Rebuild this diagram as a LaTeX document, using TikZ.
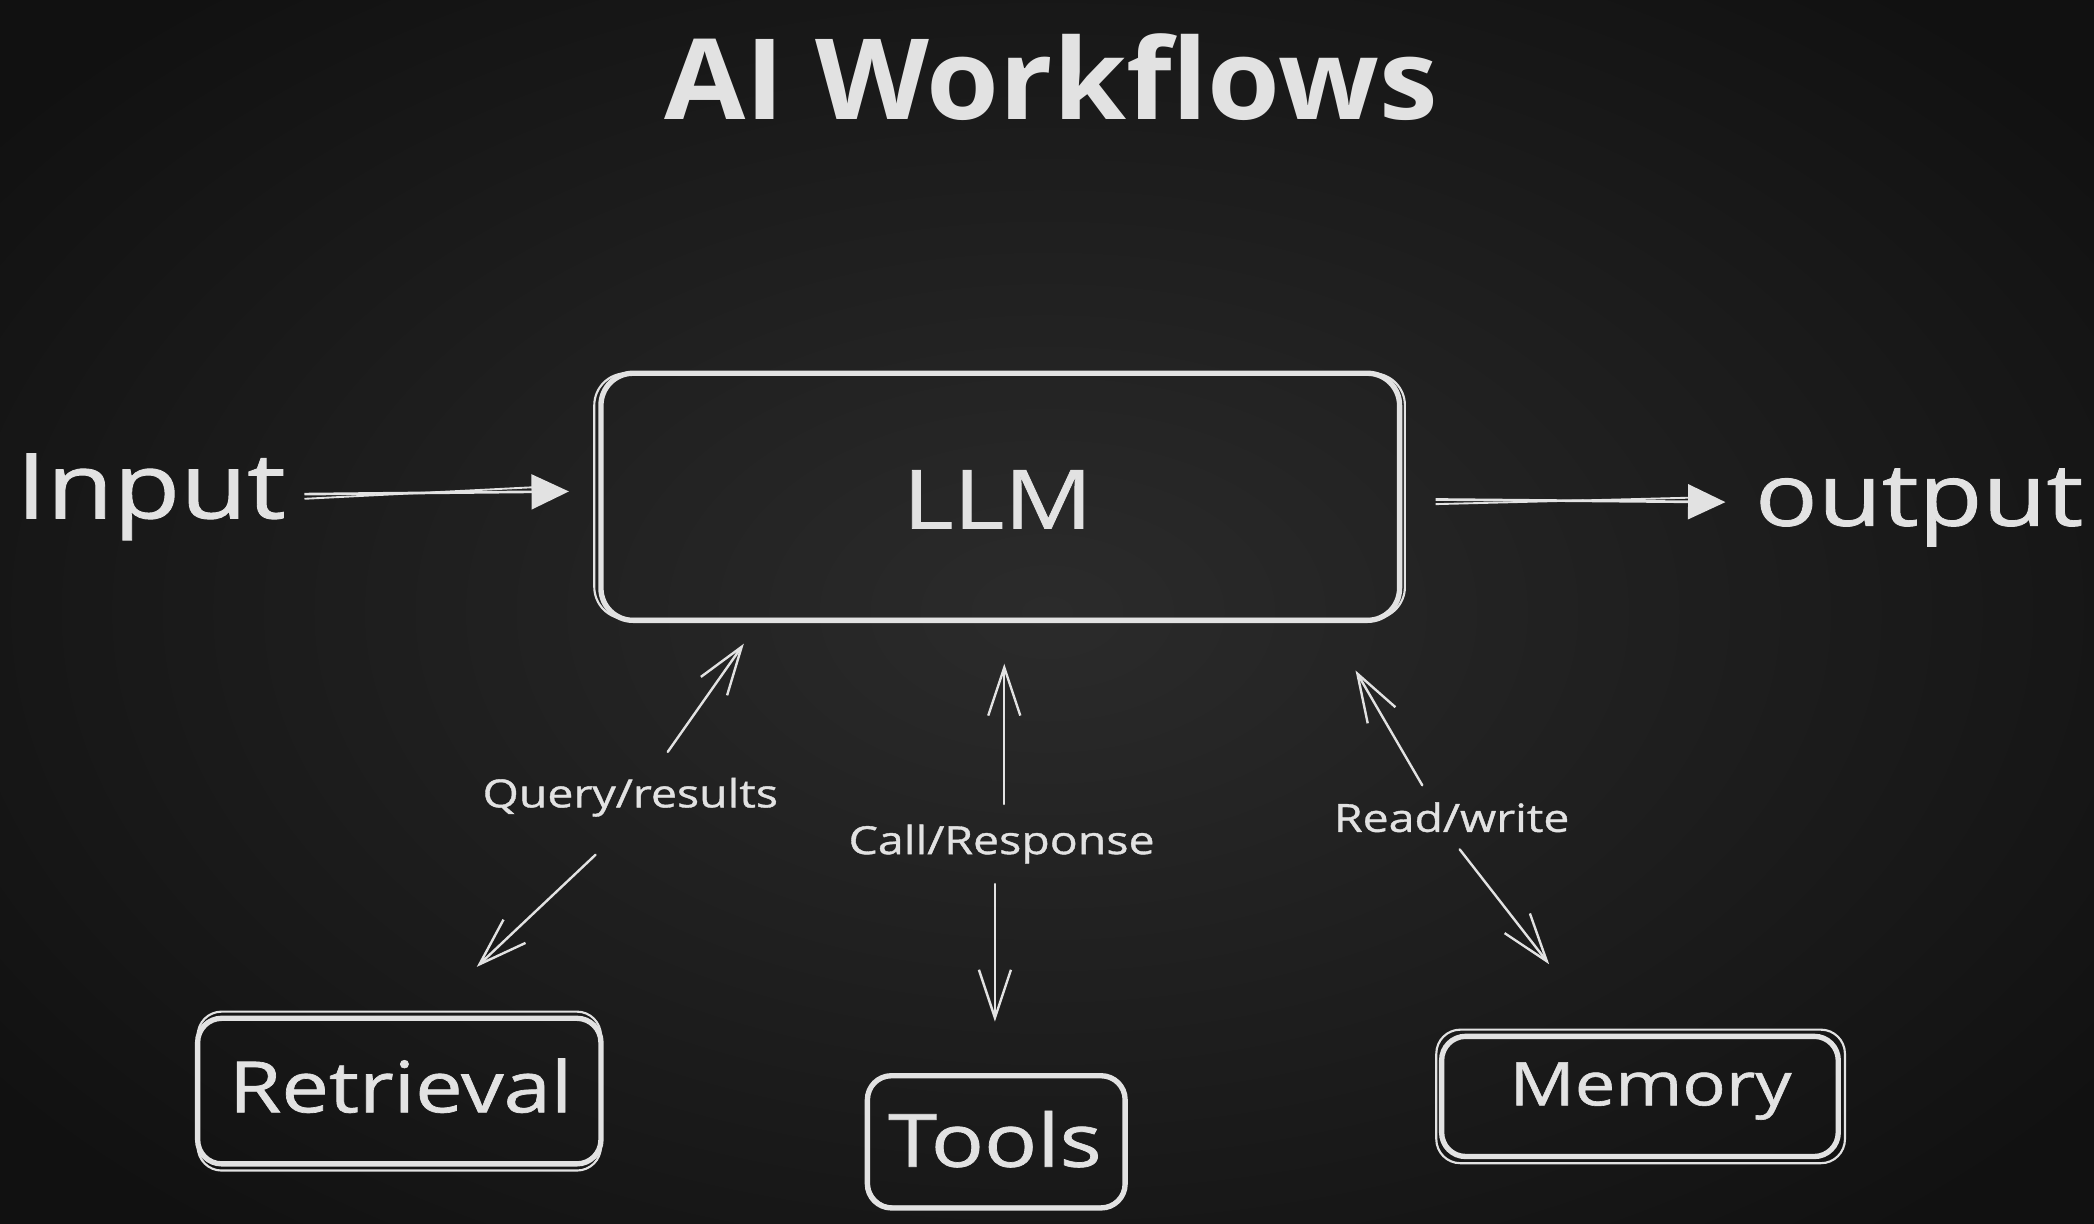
\documentclass[tikz,border=0pt]{standalone}
\usepackage{fontspec}
\setmainfont{Open Sans}[FakeStretch=1.2, FakeBold=1]
\newfontfamily\titlefont{Open Sans}[FakeStretch=1.05]
\usetikzlibrary{arrows.meta}
\definecolor{chalk}{HTML}{E2E2E2}
\definecolor{bgin}{HTML}{2B2B2B}
\definecolor{bgout}{HTML}{111111}
\newcommand\fsz[1]{\fontsize{#1}{#1}\selectfont}
\begin{document}
\begin{tikzpicture}[x=1pt,y=-1pt,
  box/.style={draw=chalk, line width=4pt, rounded corners=24pt, inner sep=0pt},
  sk/.style={draw=chalk, line width=1.6pt, rounded corners=24pt},
  txt/.style={text=chalk, inner sep=0pt},
  thinarr/.style={draw=chalk, line width=1.8pt, line cap=round,
     -{Straight Barb[length=36pt,width=24pt,line width=1.8pt]}},
  thickarr/.style={draw=chalk, line width=2pt,
     -{Triangle[length=28pt,width=26pt]}}]
\useasboundingbox (0,0) rectangle (1568,916);
\shade[inner color=bgin, outer color=bgout] (-200,-150) rectangle (1768,1066);

% title
\node[txt, font=\titlefont\bfseries\fsz{84}] (title) at (787,58) {AI Workflows};

% LLM box
\node[box, minimum width=598pt, minimum height=185pt] (llm) at (749,372) {};
\draw[sk] ([shift={(-3,2)}]llm.north west) rectangle ([shift={(2,-3)}]llm.south east);
\node[txt, font=\fsz{61}] (llmt) at (747,374) {LLM};

% input / output
\node[txt, font=\fsz{68}] (in) at (113,372) {Input};
\node[txt, font=\fsz{65}] (out) at (1437,380) {output};
\coordinate (inA) at (228,370);
\coordinate (inB) at (426,368);
\draw[thickarr] (inA) -- (inB);
\draw[chalk, line width=1.4pt] ([yshift=-3.5]inA) -- ([shift={(-20,-3.5)}]inB);
\coordinate (outA) at (1075,374);
\coordinate (outB) at (1292,376);
\draw[thickarr] (outA) -- (outB);
\draw[chalk, line width=1.4pt] ([yshift=-3.5]outA) -- ([shift={(-20,-3.5)}]outB);

% lower boxes
\node[box, minimum width=302pt, minimum height=109pt, rounded corners=18pt] (ret) at (299,817) {};
\draw[sk, rounded corners=18pt] ([shift={(2,-3)}]ret.north west) rectangle ([shift={(-2,3)}]ret.south east);
\node[txt, font=\fsz{53}] (rett) at (300,813) {Retrieval};

\node[box, minimum width=193pt, minimum height=99pt, rounded corners=18pt] (tools) at (746,855) {};
\draw[sk, rounded corners=18pt] ([shift={(3,2)}]tools.north west) rectangle ([shift={(-2,-3)}]tools.south east);
\node[txt, font=\fsz{55}] (toolst) at (745,853) {Tools};

\node[box, minimum width=297pt, minimum height=90pt, rounded corners=18pt] (mem) at (1228,821) {};
\draw[sk, rounded corners=18pt] ([shift={(-2,-3)}]mem.north west) rectangle ([shift={(3,3)}]mem.south east);
\node[txt, font=\fsz{45}] (memt) at (1236,817) {Memory};

% labels
\node[txt, font=\fsz{29}] (q) at (472,597) {Query/results};
\node[txt, font=\fsz{29}] (c) at (750,632) {Call/Response};
\node[txt, font=\fsz{29}] (r) at (1087,612) {Read/write};

% thin arrows
\coordinate (q1) at (500,563); \coordinate (q2) at (557,482);
\coordinate (q3) at (446,640); \coordinate (q4) at (357,724);
\draw[thinarr] (q1) -- (q2);
\draw[thinarr] (q3) -- (q4);
\coordinate (c1) at (752,602); \coordinate (c2) at (752,497);
\coordinate (c3) at (745,662); \coordinate (c4) at (745,765);
\draw[thinarr] (c1) -- (c2);
\draw[thinarr] (c3) -- (c4);
\coordinate (r1) at (1065,588); \coordinate (r2) at (1015,502);
\coordinate (r3) at (1093,636); \coordinate (r4) at (1160,722);
\draw[thinarr] (r1) -- (r2);
\draw[thinarr] (r3) -- (r4);
\end{tikzpicture}
\end{document}
